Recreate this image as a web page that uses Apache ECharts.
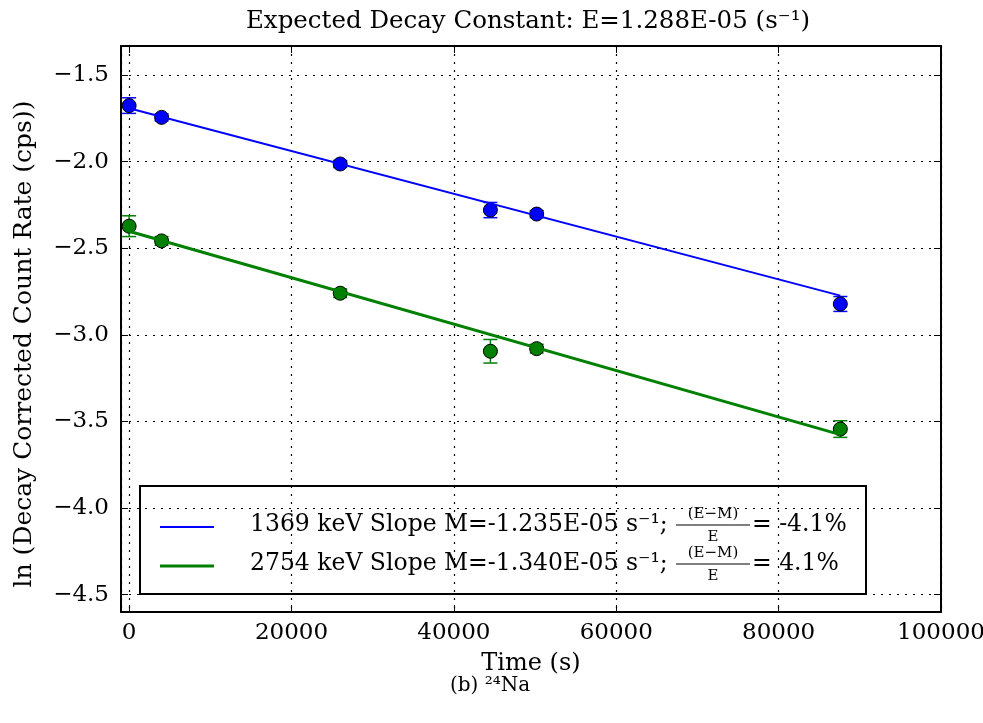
<!DOCTYPE html>
<html>
<head lang="en">
    <meta charset="UTF-8">
    <title></title>
    <script src="https://cdn.jsdelivr.net/npm/echarts@6/dist/echarts.min.js"></script>
</head>
<body style="margin:0">
<div id="container" style="height:723px;width:983px;"></div>
<script>
    var serif = '"DejaVu Serif", "Liberation Serif", serif';

    // measured times (s) and ln of decay corrected count rates
    var times = [0, 4000, 26000, 44500, 50200, 87600];
    var na1369 = [-1.677, -1.745, -2.014, -2.280, -2.303, -2.822];
    var na1369Err = [0.045, 0.02, 0.02, 0.044, 0.02, 0.043];
    var na2754 = [-2.373, -2.458, -2.760, -3.095, -3.080, -3.544];
    var na2754Err = [0.06, 0.025, 0.025, 0.068, 0.025, 0.048];
    // fitted lines, end points
    var fitX = [0, 87600];
    var fit1369 = [-1.692, -2.774];
    var fit2754 = [-2.402, -3.576];

    var legendTexts = ['1369 keV Slope M=-1.235E-05 s\u207B\u00B9;', '2754 keV Slope M=-1.340E-05 s\u207B\u00B9;'];
    var legendPct = ['= -4.1%', '= 4.1%'];

    function pts(xs, ys, es) {
        return xs.map(function (x, i) { return es ? [x, ys[i], es[i]] : [x, ys[i]]; });
    }

    function errorBars(color) {
        return function (params, api) {
            var x = api.value(0), y = api.value(1), e = api.value(2);
            var hi = api.coord([x, y + e]), lo = api.coord([x, y - e]);
            var st = {stroke: color, lineWidth: 1.5};
            return {type: 'group', children: [
                {type: 'line', shape: {x1: hi[0], y1: hi[1], x2: lo[0], y2: lo[1]}, style: st},
                {type: 'line', shape: {x1: hi[0] - 7, y1: hi[1], x2: hi[0] + 7, y2: hi[1]}, style: st},
                {type: 'line', shape: {x1: lo[0] - 7, y1: lo[1], x2: lo[0] + 7, y2: lo[1]}, style: st}
            ]};
        };
    }

    var labelFont = {color: '#000', fontFamily: serif, fontSize: 23};
    var axisLine = {show: true, onZero: false, lineStyle: {color: '#000', width: 2}};
    var tick = {show: true, inside: true, length: 7, lineStyle: {color: '#000', width: 1}};
    var grid = {show: true, lineStyle: {color: '#000', type: [2, 6], width: 1.2}};

    function legendRow(i, y) {
        var color = i === 0 ? '#0000ff' : '#008000';
        return [
            {type: 'line', shape: {x1: 160, y1: y, x2: 214, y2: y}, style: {stroke: color, lineWidth: i === 0 ? 2 : 3}},
            {type: 'text', x: 250, y: y - 2, style: {text: legendTexts[i], font: '23.5px ' + serif, fill: '#000', verticalAlign: 'middle'}},
            {type: 'text', x: 713, y: y - 13, style: {text: '(E\u2212M)', font: '15px ' + serif, fill: '#000', align: 'center', verticalAlign: 'middle'}},
            {type: 'line', shape: {x1: 676, y1: y - 2, x2: 750, y2: y - 2}, style: {stroke: '#000', lineWidth: 1}},
            {type: 'text', x: 713, y: y + 10, style: {text: 'E', font: '15px ' + serif, fill: '#000', align: 'center', verticalAlign: 'middle'}},
            {type: 'text', x: 752, y: y - 2, style: {text: legendPct[i], font: '23.5px ' + serif, fill: '#000', verticalAlign: 'middle'}}
        ];
    }

    var myChart = echarts.init(document.getElementById('container'));
    var option = {
        backgroundColor: '#fff',
        animation: false,
        grid: {left: 121, right: 42, top: 46, bottom: 111, outerBoundsMode: 'none'},
        xAxis: [{
            type: 'value', min: -1000, max: 100000, splitNumber: 5, position: 'bottom',
            axisLine: axisLine, axisTick: tick, splitLine: grid,
            axisLabel: Object.assign({showMinLabel: false, margin: 10,
                formatter: function (v) { return String(v); }}, labelFont),
            name: 'Time (s)', nameLocation: 'middle', nameGap: 40,
            nameTextStyle: {color: '#000', fontFamily: serif, fontSize: 24}
        }, {
            type: 'value', min: -1000, max: 100000, splitNumber: 5, position: 'top',
            axisLine: axisLine, axisTick: tick, splitLine: {show: false}, axisLabel: {show: false}
        }],
        yAxis: [{
            type: 'value', min: -4.6, max: -1.333, splitNumber: 5, position: 'left',
            axisLine: axisLine, axisTick: tick, splitLine: grid,
            axisLabel: Object.assign({showMinLabel: false, showMaxLabel: false, margin: 12,
                formatter: function (v) { return v.toFixed(1).replace('-', '\u2212'); }}, labelFont)
        }, {
            type: 'value', min: -4.6, max: -1.333, splitNumber: 5, position: 'right',
            axisLine: axisLine, axisTick: tick, splitLine: {show: false}, axisLabel: {show: false}
        }],
        graphic: [
            {type: 'text', x: 528, y: 22, z: 100, style: {text: 'Expected Decay Constant: E=1.288E-05 (s\u207B\u00B9)',
                font: '24.5px ' + serif, fill: '#000', align: 'center', verticalAlign: 'middle'}},
            {type: 'text', x: 24, y: 344, rotation: Math.PI / 2, z: 100, style: {text: 'ln (Decay Corrected Count Rate (cps))',
                font: '25px ' + serif, fill: '#000', align: 'center', verticalAlign: 'middle'}},
            {type: 'text', x: 490, y: 686, z: 100, style: {text: '(b) \u00B2\u2074Na',
                font: '20px ' + serif, fill: '#000', align: 'center', verticalAlign: 'middle'}},
            {type: 'group', z: 100, children: [
                {type: 'rect', shape: {x: 140, y: 486, width: 726, height: 108}, style: {fill: '#fff', stroke: '#000', lineWidth: 2}}
            ].concat(legendRow(0, 527), legendRow(1, 566))}
        ],
        series: [
            {type: 'custom', renderItem: errorBars('#0000ff'), data: pts(times, na1369, na1369Err), z: 2},
            {type: 'custom', renderItem: errorBars('#008000'), data: pts(times, na2754, na2754Err), z: 2},
            {type: 'scatter', symbolSize: 14, data: pts(times, na1369), z: 3,
                itemStyle: {color: '#0000ff', borderColor: '#000', borderWidth: 1, opacity: 1}},
            {type: 'scatter', symbolSize: 14, data: pts(times, na2754), z: 3,
                itemStyle: {color: '#008000', borderColor: '#000', borderWidth: 1, opacity: 1}},
            {type: 'line', data: pts(fitX, fit1369), symbol: 'none', z: 4, lineStyle: {color: '#0000ff', width: 2}},
            {type: 'line', data: pts(fitX, fit2754), symbol: 'none', z: 4, lineStyle: {color: '#008000', width: 3}}
        ]
    };
    myChart.setOption(option);
</script>
</body>
</html>
